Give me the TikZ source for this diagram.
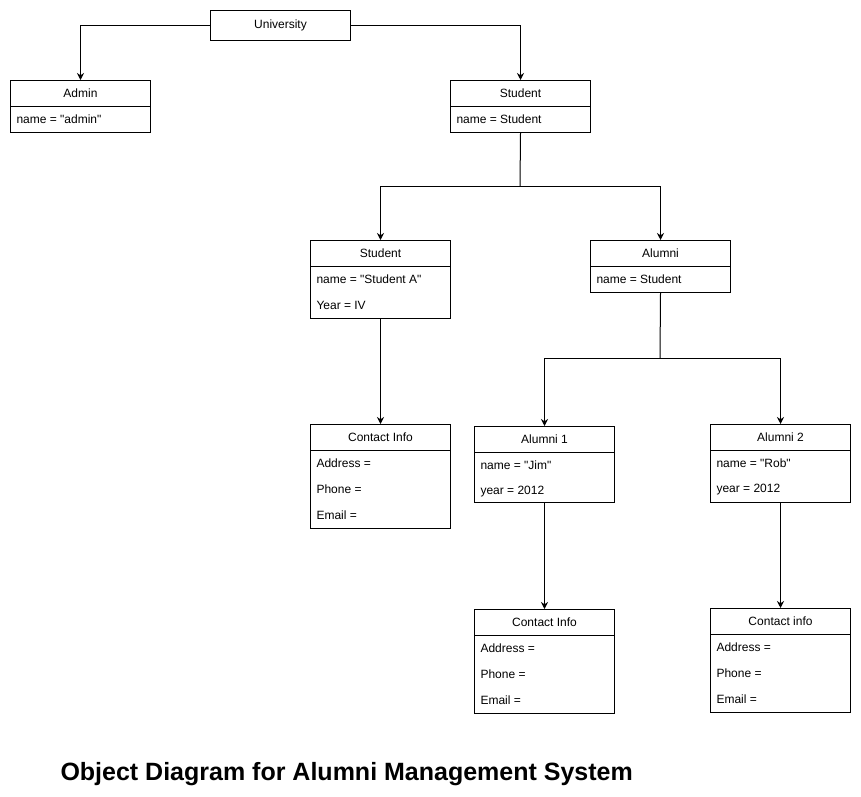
\documentclass[tikz,border=0pt]{standalone}
\usepackage{fontspec}
\setmainfont{Liberation Sans}[Ligatures=TeXOff]
\usetikzlibrary{arrows.meta}
\begin{document}
\begin{tikzpicture}[x=1pt,y=-1pt, line width=1pt,
  hdr/.style={draw, rectangle, minimum width=140pt, minimum height=26pt, anchor=north west, inner sep=0pt, font=\fontsize{12}{14}\selectfont},
  bodybox/.style={draw, rectangle, minimum width=140pt, anchor=north west, inner sep=0pt},
  row/.style={anchor=west, inner sep=0pt, font=\fontsize{12}{14}\selectfont},
  conn/.style={-{Stealth[length=7pt,width=7pt]}, line width=1pt},
]
\useasboundingbox (0,0) rectangle (861,796);
\fill[white] (0,0) rectangle (861,796);

% University
\node[hdr, minimum height=30pt] (uni) at (210,10) {University};

% Admin
\node[hdr] (admH) at (10,80) {Admin};
\node[bodybox, minimum height=26pt] (admB) at (10,106) {};
\node[row] (admR1) at (16,119.5) {name = "admin"};

% Student (top)
\node[hdr] (stuH) at (450,80) {Student};
\node[bodybox, minimum height=26pt] (stuB) at (450,106) {};
\node[row] (stuR1) at (456,119.5) {name = Student};

% Student A
\node[hdr] (saH) at (310,240) {Student};
\node[bodybox, minimum height=52pt] (saB) at (310,266) {};
\node[row] (saR1) at (316,279.5) {name = "Student A"};
\node[row] (saR2) at (316,305.5) {Year = IV};

% Alumni
\node[hdr] (alH) at (590,240) {Alumni};
\node[bodybox, minimum height=26pt] (alB) at (590,266) {};
\node[row] (alR1) at (596,279.5) {name = Student};

% Contact Info 1
\node[hdr] (c1H) at (310,424) {Contact Info};
\node[bodybox, minimum height=78pt] (c1B) at (310,450) {};
\node[row] (c1R1) at (316,463.5) {Address =};
\node[row] (c1R2) at (316,489.5) {Phone =};
\node[row] (c1R3) at (316,515.5) {Email =};

% Alumni 1
\node[hdr] (a1H) at (474,426) {Alumni 1};
\node[bodybox, minimum height=50pt] (a1B) at (474,452) {};
\node[row] (a1R1) at (480,465.5) {name = "Jim"};
\node[row] (a1R2) at (480,491.5) {year = 2012};

% Alumni 2
\node[hdr] (a2H) at (710,424) {Alumni 2};
\node[bodybox, minimum height=52pt] (a2B) at (710,450) {};
\node[row] (a2R1) at (716,463.5) {name = "Rob"};
\node[row] (a2R2) at (716,489.5) {year = 2012};

% Contact Info 2
\node[hdr] (c2H) at (474,609) {Contact Info};
\node[bodybox, minimum height=78pt] (c2B) at (474,635) {};
\node[row] (c2R1) at (480,648.5) {Address =};
\node[row] (c2R2) at (480,674.5) {Phone =};
\node[row] (c2R3) at (480,700.5) {Email =};

% Contact info 3
\node[hdr] (c3H) at (710,608) {Contact info};
\node[bodybox, minimum height=78pt] (c3B) at (710,634) {};
\node[row] (c3R1) at (716,647.5) {Address =};
\node[row] (c3R2) at (716,673.5) {Phone =};
\node[row] (c3R3) at (716,699.5) {Email =};

% Connectors
\draw[conn] (uni.west) -| (admH.north);
\draw[conn] (uni.east) -| (stuH.north);
\coordinate (j1) at (520,186);
\draw (stuB.south) -- (j1);
\draw[conn] (j1) -| (saH.north);
\draw[conn] (j1) -| (alH.north);
\draw[conn] (saB.south) -- (c1H.north);
\coordinate (j2) at (660,358);
\draw (alB.south) -- (j2);
\draw[conn] (j2) -| (a1H.north);
\draw[conn] (j2) -| (a2H.north);
\draw[conn] (a1B.south) -- (c2H.north);
\draw[conn] (a2B.south) -- (c3H.north);

% Title
\node[anchor=base west, inner sep=0pt, font=\fontsize{25}{30}\selectfont\bfseries] (title) at (60,780) {Object Diagram for Alumni Management System};
\end{tikzpicture}
\end{document}
